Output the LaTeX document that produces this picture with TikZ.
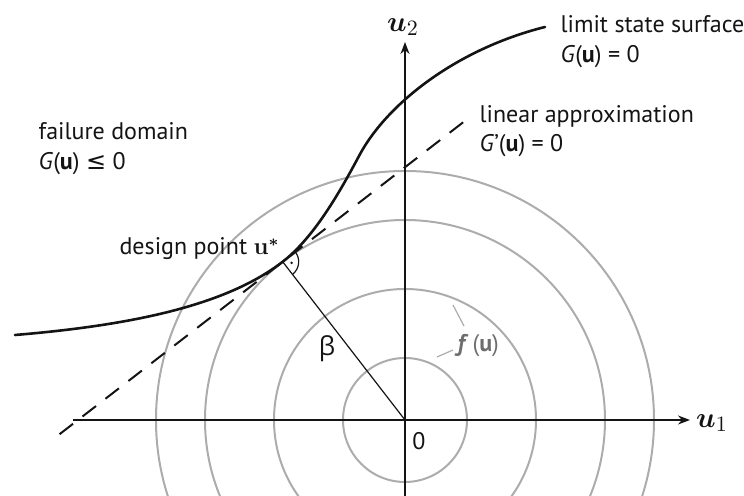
\documentclass[tikz,border=0pt]{standalone}
\usepackage[no-math]{fontspec}
\setmainfont{PT Sans}
\newfontfamily\symfont{DejaVu Sans}
\newfontfamily\grkfont{Open Sans}
\usepackage{amsmath}
\usetikzlibrary{arrows.meta,calc}
\definecolor{ink}{RGB}{20,20,20}
\definecolor{ringgray}{RGB}{172,172,172}
\definecolor{pdfgray}{RGB}{110,110,110}
\tikzset{
  every picture/.style={color=ink, line width=0.6pt, font=\fontsize{12}{15}\selectfont},
  axis/.style={-{Stealth[length=6pt,width=4.5pt]}, line width=0.7pt},
  ring/.style={draw=ringgray, line width=1pt},
  lss/.style={line width=1.3pt, line cap=round},
  approx/.style={line width=1pt, dash pattern=on 8.5pt off 6pt},
  perp/.style={line width=0.6pt},
  lbl/.style={inner sep=0pt, anchor=base west},
  axlbl/.style={inner sep=0pt, font=\fontsize{15}{15}\selectfont},
  lead/.style={draw=ringgray, line width=0.6pt},
}
\newcommand{\Gu}{\textit{G}(\textbf{u})}

\begin{document}
\begin{tikzpicture}[x=0.5pt, y=0.5pt]
  \clip (-405,-76) rectangle (339,420);
  \coordinate (O) at (0,0);
  \coordinate (D) at (127.7:200);
  % density contours
  \foreach \r in {62,131,200,249}
    \draw[ring] (O) circle[radius=\r];
  % axes
  \coordinate (xl) at (-332,0);
  \coordinate (xr) at (285,0);
  \coordinate (yb) at (0,-76);
  \coordinate (yt) at (0,378);
  \draw[axis] (xl) -- (xr);
  \draw[axis] (yb) -- (yt);
  \node[axlbl] (u1) at (307,-3) {$\boldsymbol{u}_1$};
  \node[axlbl] (u2) at (-2,393) {$\boldsymbol{u}_2$};
  \node[inner sep=0pt] (zero) at (14,-21) {0};
  % limit state surface and its linearisation
  \coordinate (S) at (-390,85);
  \coordinate (I) at (-46,264);
  \coordinate (E) at (140,393);
  \draw[lss] (S) .. controls (-270,95) and (-177.7,115.4) .. (D)
    .. controls (-90.7,182.7) and (-64.8,228.7) .. (I)
    .. controls (-17.9,317) and (52.7,371.2) .. (E);
  \coordinate (tl) at ($(D)+(217.7:282)$);
  \coordinate (tr) at ($(D)+(37.7:232)$);
  \draw[approx] (tl) -- (tr);
  % reliability index
  \draw[perp] (O) -- (D);
  \draw[perp] ($(D)+(37.7:16)$) arc[start angle=37.7, end angle=-52.3, radius=16];
  \fill ($(D)+(-7.3:9)$) circle[radius=1.4];
  \node[font=\grkfont\fontsize{13}{15}\selectfont, inner sep=0pt] (beta) at (-78,71) {β};
  % labels
  \node[lbl] (lsf) at (155,387) {limit state surface};
  \node[lbl] (lsfG) at (155,357) {\Gu{} = 0};
  \node[lbl] (lin) at (74,297) {linear approximation};
  \node[lbl] (linG) at (74,268) {\textit{G}’(\textbf{u}) = 0};
  \node[lbl] (fail) at (-367,280) {failure domain};
  \node[lbl] (failG) at (-367,250) {\Gu{} {\symfont ≤} 0};
  \node[lbl, anchor=base east] (dp) at (-125,165) {design point $\mathbf{u}^{\boldsymbol{\ast}}$};
  \node[lbl, text=pdfgray] (fu) at (52,68) {\textit{\textbf{f}}\,(\textbf{u})};
  \coordinate (c2) at (48,115);
  \coordinate (c1) at (32,63);
  \draw[lead] (c2) -- (59,94);
  \draw[lead] (c1) -- (48,70);
\end{tikzpicture}
\end{document}
